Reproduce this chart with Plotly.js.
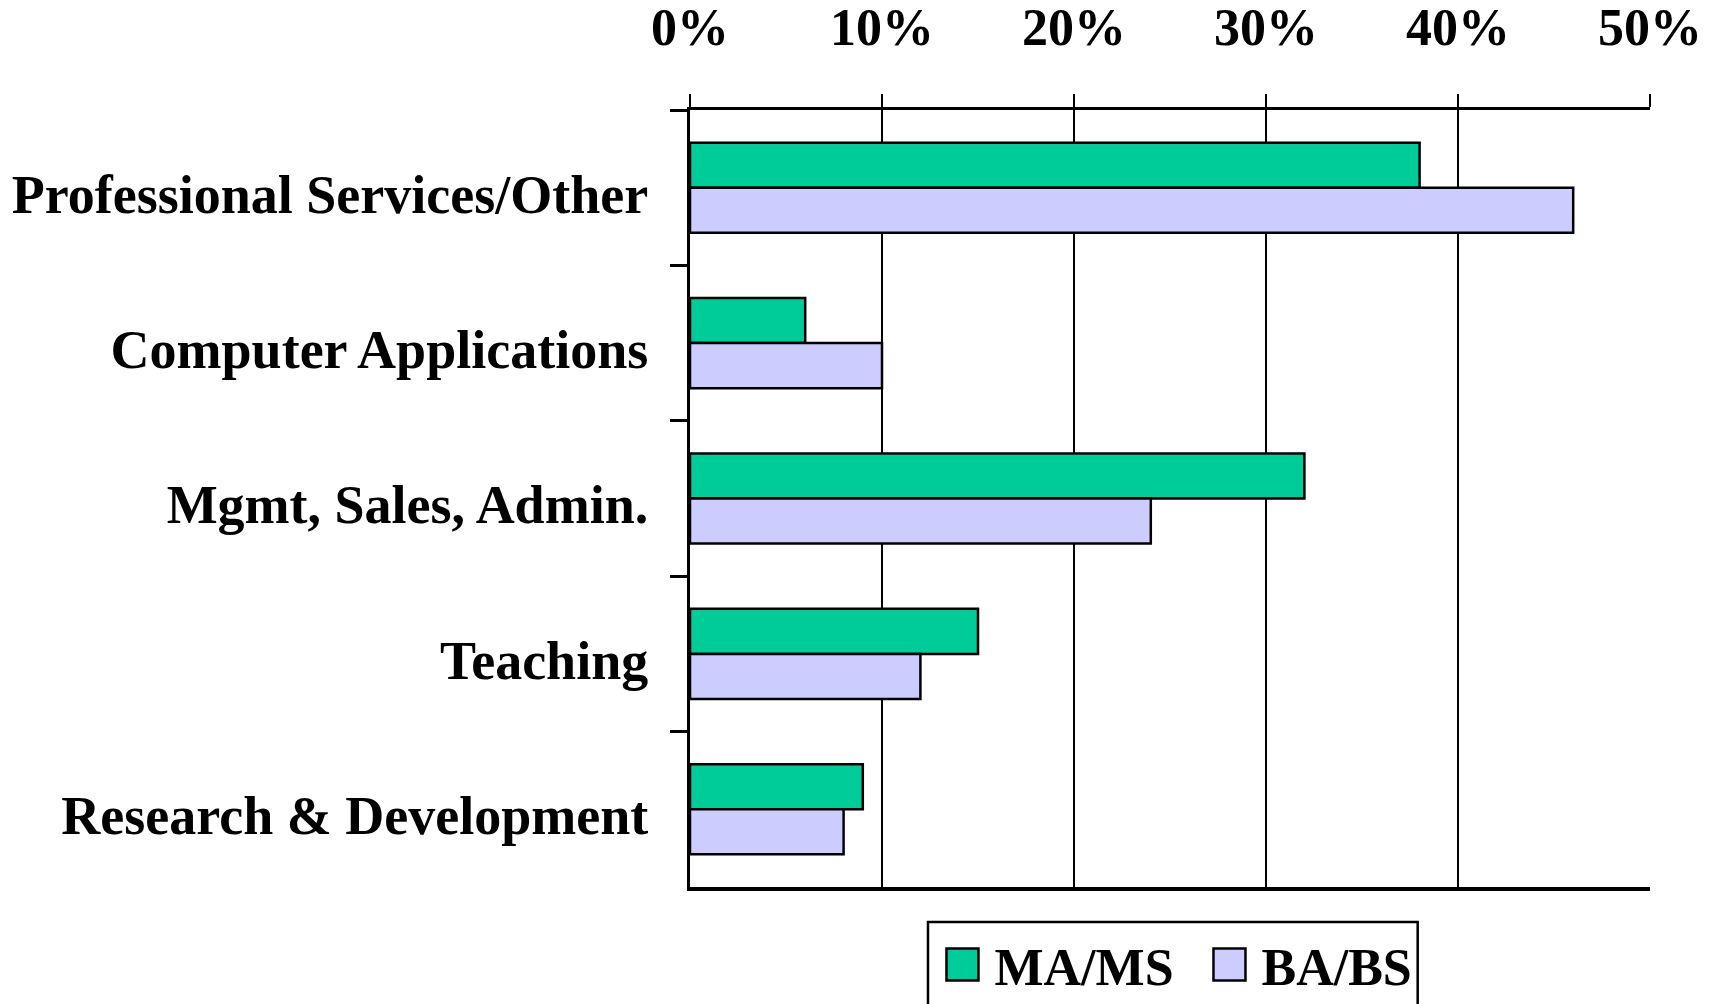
<!DOCTYPE html>
<html>
<head>
<meta charset="utf-8">
<script src="https://cdn.plot.ly/plotly-3.0.1.min.js"></script>
<style>html,body{margin:0;padding:0;background:#fff;}#chart{width:1722px;height:1004px;}</style>
</head>
<body>
<div id="chart"></div>
<script>
const categories = ["Professional Services/Other", "Computer Applications", "Mgmt, Sales, Admin.", "Teaching", "Research & Development"];
const maMs = [38, 6, 32, 15, 9];
const baBs = [46, 10, 24, 12, 8];
const seriesNames = ["MA/MS", "BA/BS"];
const xTickVals = [0, 10, 20, 30, 40, 50];
const xTickLabels = ["0%", "10%", "20%", "30%", "40%", "50%"];

const FONT = "Liberation Serif, Times New Roman, serif";

const traces = [
  {type: "bar", orientation: "h", name: seriesNames[0], y: categories, x: maMs,
   marker: {color: "#00CC99", line: {color: "#000", width: 2.5}}, hoverinfo: "x+y"},
  {type: "bar", orientation: "h", name: seriesNames[1], y: categories, x: baBs,
   marker: {color: "#CCCCFF", line: {color: "#000", width: 2.5}}, hoverinfo: "x+y"}
];

const layout = {
  width: 1722, height: 1004,
  margin: {l: 690, r: 72, t: 110, b: 117, autoexpand: false},
  paper_bgcolor: "#fff", plot_bgcolor: "#fff",
  barmode: "group", bargap: 0.42, bargroupgap: 0,
  showlegend: true,
  legend: {
    orientation: "h", x: 0.2505, xanchor: "left", y: -0.048, yanchor: "top",
    borderwidth: 0, bgcolor: "rgba(0,0,0,0)",
    font: {family: FONT, size: 52, color: "#000", weight: "bold"},
    itemwidth: 54, entrywidth: 198, entrywidthmode: "pixels", traceorder: "normal"
  },
  shapes: [
    {type: "rect", xref: "paper", yref: "paper", x0: 0.2479, x1: 0.758, y0: -0.045, y1: -0.17,
     line: {color: "#000", width: 2.5}, fillcolor: "rgba(0,0,0,0)", layer: "below"}
  ],
  xaxis: {
    side: "top", range: [0, 50], tickmode: "array", tickvals: xTickVals, ticktext: xTickLabels,
    showgrid: true, gridcolor: "#000", gridwidth: 2,
    showline: true, linecolor: "#000", linewidth: 3.5, mirror: true,
    ticks: "outside", ticklen: 13, tickwidth: 2, tickcolor: "#000",
    ticklabelstandoff: 28,
    zeroline: false, fixedrange: true,
    tickfont: {family: FONT, size: 52, color: "#000", weight: "bold"}
  },
  yaxis: {
    type: "category", autorange: "reversed",
    showgrid: false, zeroline: false,
    showline: true, linecolor: "#000", linewidth: 3,
    ticks: "outside", tickson: "boundaries", ticklen: 17, tickwidth: 3, tickcolor: "#000",
    ticklabelstandoff: 28, ticklabelshift: -6,
    fixedrange: true,
    tickfont: {family: FONT, size: 54, color: "#000", weight: "bold"}
  }
};

Plotly.newPlot("chart", traces, layout, {displayModeBar: false, staticPlot: true}).then(function () {
  document.querySelectorAll("#chart .legend .legendpoints path").forEach(function (p) {
    p.setAttribute("d", "M16,16H-16V-16H16Z");
  });
});
</script>
</body>
</html>
